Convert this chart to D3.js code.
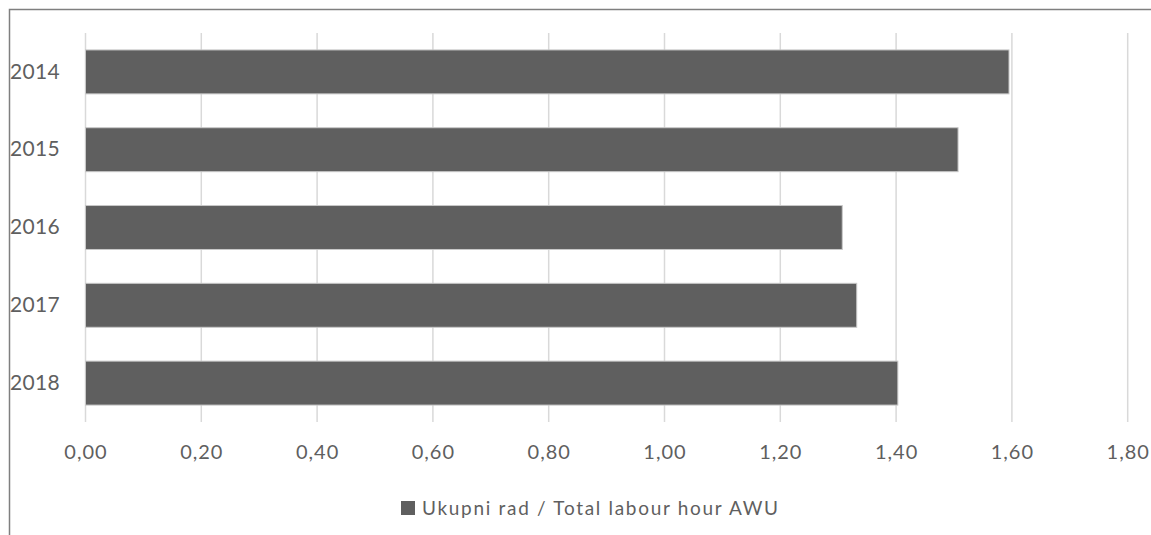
<!DOCTYPE html>
<html>
<head>
<meta charset="utf-8">
<script src="https://cdn.jsdelivr.net/npm/d3@7"></script>
<style>
  body { margin: 0; background: #fff; }
  svg text { font-family: Lato, "Open Sans", sans-serif; fill: #5f5f5f; }
</style>
</head>
<body>
<svg id="chart"></svg>
<script>
var width = 1151, height = 535;

// data
var years = ["2014", "2015", "2016", "2017", "2018"];
var values = [1.595, 1.507, 1.307, 1.332, 1.403];
var tickValues = [0, 0.2, 0.4, 0.6, 0.8, 1.0, 1.2, 1.4, 1.6, 1.8];
var seriesName = "Ukupni rad / Total labour hour AWU";

var margin = {top: 33, right: 23, bottom: 113, left: 85.5};

var svg = d3.select("#chart")
    .attr("width", width)
    .attr("height", height);

// outer chart border (only top/left visible in the crop)
svg.append("path")
    .attr("d", "M9.5," + height + "V9.5H" + width)
    .attr("fill", "none")
    .attr("stroke", "#7f7f7f")
    .attr("stroke-width", 1.5);

var x = d3.scaleLinear()
    .domain([0, 1.8])
    .range([margin.left, 1127.7]);

var y = d3.scaleBand()
    .domain(years)
    .range([margin.top, height - margin.bottom])
    .paddingInner(0.435)
    .paddingOuter(0.2175);

// gridlines
svg.append("g")
    .attr("class", "grid")
  .selectAll("line")
    .data(tickValues)
  .enter().append("line")
    .attr("x1", function(d) { return x(d); })
    .attr("x2", function(d) { return x(d); })
    .attr("y1", margin.top)
    .attr("y2", height - margin.bottom)
    .attr("stroke", "#d9d9d9")
    .attr("stroke-width", 1.5);

// bars
svg.append("g")
  .selectAll("rect")
    .data(values)
  .enter().append("rect")
    .attr("x", x(0))
    .attr("y", function(d, i) { return y(years[i]); })
    .attr("width", function(d) { return x(d) - x(0); })
    .attr("height", y.bandwidth())
    .attr("fill", "#5f5f5f")
    .attr("stroke", "#c8c8c8")
    .attr("stroke-width", 1);

// x axis labels
var fmt = function(d) { return d3.format(".2f")(d).replace(".", ","); };
var xAxis = svg.append("g")
    .attr("transform", "translate(0," + (height - margin.bottom) + ")")
    .call(d3.axisBottom(x).tickValues(tickValues).tickFormat(fmt).tickSize(0).tickPadding(23));
xAxis.select(".domain").remove();
xAxis.selectAll("text")
    .style("font-size", "20px")
    .style("letter-spacing", "1px")
    .attr("fill", "#666");

// y axis labels
var yAxis = svg.append("g")
    .attr("transform", "translate(60,0)")
    .call(d3.axisLeft(y).tickSize(0).tickPadding(0));
yAxis.select(".domain").remove();
yAxis.selectAll("text")
    .style("font-size", "21px")
    .style("letter-spacing", "0.3px")
    .attr("fill", "#666");

// legend
var legend = svg.append("g").attr("transform", "translate(401,501)");
legend.append("rect")
    .attr("width", 14)
    .attr("height", 14)
    .attr("fill", "#5f5f5f");
legend.append("text")
    .attr("x", 21)
    .attr("y", 7)
    .attr("dy", "0.35em")
    .attr("textLength", 356)
    .attr("lengthAdjust", "spacing")
    .attr("fill", "#666")
    .style("font-size", "19px")
    .text(seriesName);
</script>
</body>
</html>
